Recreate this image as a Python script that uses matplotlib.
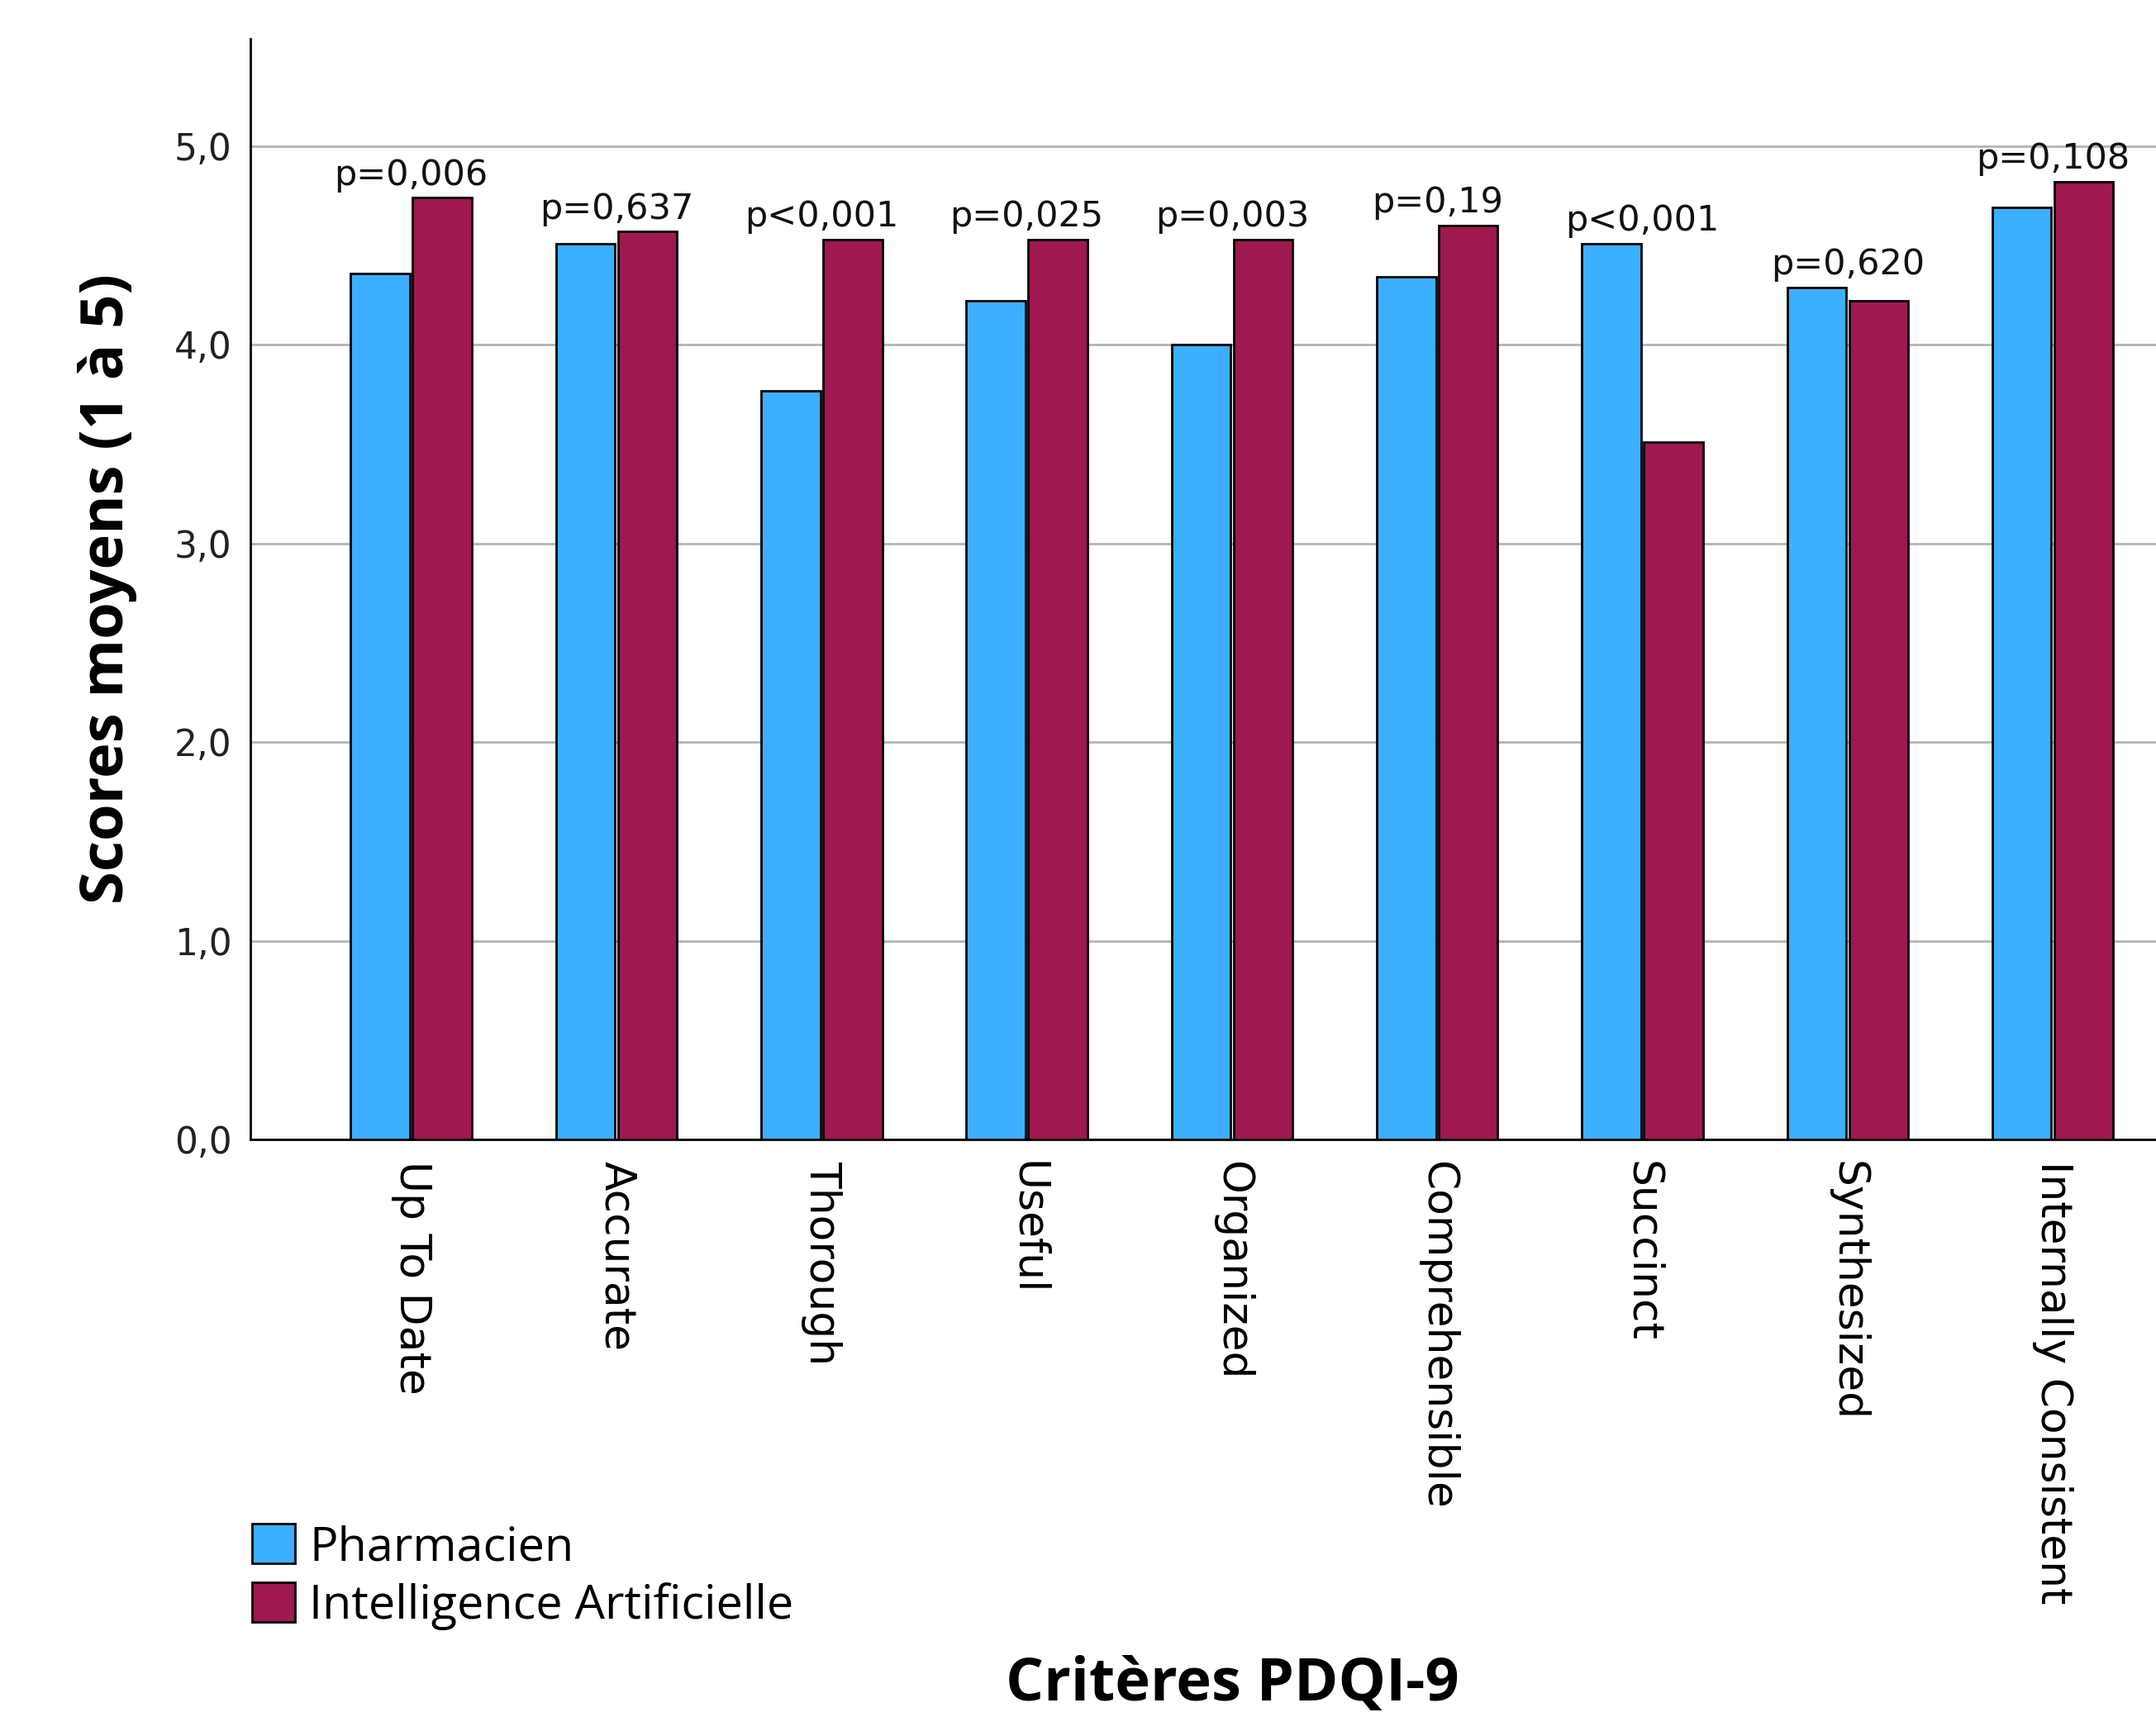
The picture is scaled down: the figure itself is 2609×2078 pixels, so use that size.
import matplotlib
matplotlib.use("Agg")
import matplotlib.pyplot as plt
import numpy as np

categories = ["Up To Date", "Accurate", "Thorough", "Useful", "Organized",
              "Comprehensible", "Succinct", "Synthesized", "Internally Consistent"]
pharmacien = [4.36, 4.51, 3.77, 4.22, 4.00, 4.34, 4.51, 4.29, 4.69]
ia = [4.74, 4.57, 4.53, 4.53, 4.53, 4.60, 3.51, 4.22, 4.82]
p_labels = ["p=0,006", "p=0,637", "p<0,001", "p=0,025", "p=0,003",
            "p=0,19", "p<0,001", "p=0,620", "p=0,108"]
series_names = ["Pharmacien", "Intelligence Artificielle"]
yticks = [0, 1, 2, 3, 4, 5]
ytick_labels = ["0,0", "1,0", "2,0", "3,0", "4,0", "5,0"]

BLUE = "#3DAFFF"
RED = "#9F1850"

W, H, DPI = 2609, 2078, 200
fig = plt.figure(figsize=(W / DPI, H / DPI), dpi=DPI)
fig.patch.set_facecolor("white")
ax = fig.add_axes([0.1161, 0.3364, 0.9107, 0.641])

x = np.arange(len(categories))
off = 0.151
bw = 0.288
b1 = ax.bar(x - off, pharmacien, bw, color=BLUE, edgecolor="black", linewidth=1.0, zorder=3)
b2 = ax.bar(x + off, ia, bw, color=RED, edgecolor="black", linewidth=1.0, zorder=3)

for i, lab in enumerate(p_labels):
    top = max(pharmacien[i], ia[i])
    ax.text(x[i], top + 0.065, lab, ha="center", va="baseline",
            fontsize=15.5, family="DejaVu Sans", color="#111111", zorder=4)

ax.set_xlim(-0.784, 8.784)
ax.set_ylim(0, 5.54)
ax.set_yticks(yticks)
ax.set_yticklabels(ytick_labels, fontsize=15.8, family="DejaVu Sans", color="#222222")
ax.set_xticks(x)
ax.set_xticklabels(categories, rotation=-90, fontsize=18.7, family="DejaVu Sans",
                   va="top", ha="center")
ax.tick_params(axis="y", length=0, pad=8)
ax.tick_params(axis="x", length=0, pad=9.5)

ax.yaxis.grid(True, color="#b4b4b4", linewidth=1.0, zorder=0)
ax.set_axisbelow(True)
for s in ["top", "right"]:
    ax.spines[s].set_visible(False)
for s in ["left", "bottom"]:
    ax.spines[s].set_linewidth(1.0)
    ax.spines[s].set_color("black")

ax.set_ylabel("Scores moyens (1 à 5)", fontsize=26, family="Open Sans",
              fontweight="bold", labelpad=16)
fig.text(0.5715, 0.0095, "Critères PDQI-9", ha="center", va="baseline",
         fontsize=26, family="Open Sans", fontweight="bold")

fig.legend([b1, b2], series_names, loc="upper left", bbox_to_anchor=(0.117, 0.1124),
           frameon=False, borderpad=0, borderaxespad=0, handlelength=0.9,
           handleheight=0.9, handletextpad=0.3, labelspacing=0.22,
           prop={"family": "Open Sans", "size": 20.7})

fig.savefig("out.png", dpi=DPI)
